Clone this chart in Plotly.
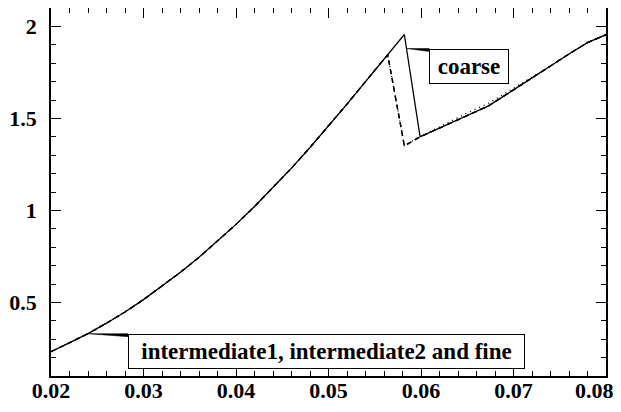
import plotly.graph_objects as go

# ---- data ----
x_common = [0.020, 0.022, 0.024, 0.026, 0.028, 0.030, 0.032, 0.034, 0.036, 0.038,
            0.040, 0.042, 0.044, 0.046, 0.048, 0.050, 0.052, 0.054, 0.056]
y_common = [0.232, 0.279, 0.330, 0.387, 0.448, 0.515, 0.587, 0.664, 0.745, 0.832,
            0.924, 1.021, 1.123, 1.230, 1.342, 1.459, 1.578, 1.700, 1.824]

x_coarse_tail = [0.058, 0.0582, 0.0599, 0.062, 0.064, 0.066, 0.0673, 0.070, 0.072,
                 0.074, 0.076, 0.078, 0.080]
y_coarse_tail = [1.946, 1.956, 1.400, 1.447, 1.492, 1.537, 1.568, 1.655, 1.722,
                 1.785, 1.850, 1.912, 1.955]

x_inter1_tail = [0.0564, 0.0582, 0.0599, 0.062, 0.064, 0.066, 0.0673, 0.070, 0.072,
                 0.074, 0.076, 0.078, 0.080]
y_inter1_tail = [1.846, 1.351, 1.400, 1.447, 1.492, 1.537, 1.568, 1.655, 1.722,
                 1.785, 1.850, 1.912, 1.955]

x_inter2_tail = [0.0564, 0.0582, 0.0599, 0.062, 0.064, 0.066, 0.0673, 0.070, 0.072,
                 0.074, 0.076, 0.078, 0.080]
y_inter2_tail = [1.846, 1.351, 1.400, 1.447, 1.492, 1.537, 1.568, 1.655, 1.722,
                 1.785, 1.850, 1.912, 1.955]

x_fine_tail = [0.0564, 0.0582, 0.0599, 0.061, 0.063, 0.065, 0.0673, 0.069, 0.0711,
               0.072, 0.074, 0.076, 0.078, 0.080]
y_fine_tail = [1.846, 1.351, 1.402, 1.428, 1.480, 1.530, 1.582, 1.634, 1.694,
               1.722, 1.785, 1.850, 1.912, 1.955]

x_tickvals = [0.02, 0.03, 0.04, 0.05, 0.06, 0.07, 0.08]
x_ticklabels = ["0.02", "0.03", "0.04", "0.05", "0.06", "0.07", "0.08"]

label_coarse = "coarse"
label_rest = "intermediate1, intermediate2 and fine"

FONT = "Liberation Serif"

fig = go.Figure()

def add(xs, ys, dash, name):
    fig.add_trace(go.Scatter(x=xs, y=ys, mode="lines", name=name,
                             line=dict(color="black", width=1.3, dash=dash)))

add(x_common + x_fine_tail, y_common + y_fine_tail, "1px,4px", "fine")
add(x_common + x_inter2_tail, y_common + y_inter2_tail, "5px,4px", "intermediate2")
add(x_common + x_inter1_tail, y_common + y_inter1_tail, "5px,4px", "intermediate1")
add(x_common + x_coarse_tail, y_common + y_coarse_tail, "solid", "coarse")

# label anchors taken from the data
peak_i = y_coarse_tail.index(max(y_coarse_tail))
cx, cy = x_coarse_tail[peak_i], y_coarse_tail[peak_i]
lx, ly = x_common[2], y_common[2]

# wedge leaders (pixel offsets relative to the data anchors)
fig.add_shape(type="path", xref="x", yref="y", xsizemode="pixel", ysizemode="pixel",
              xanchor=cx, yanchor=cy, path="M 2,-14 L 25,-14 L 25,-17 Z",
              fillcolor="black", line=dict(color="black", width=0.5))
fig.add_shape(type="path", xref="x", yref="y", xsizemode="pixel", ysizemode="pixel",
              xanchor=lx, yanchor=ly, path="M 0,0 L 40,0 L 40,-3 Z",
              fillcolor="black", line=dict(color="black", width=0.5))

ann_font = dict(family=FONT, size=23, color="black", weight="bold")
fig.add_annotation(x=cx, y=cy, xref="x", yref="y", text=label_coarse, showarrow=False,
                   xanchor="left", yanchor="top", xshift=25, yshift=-14,
                   bgcolor="white", bordercolor="black", borderwidth=1, borderpad=3,
                   width=72, height=27, font=ann_font)
fig.add_annotation(x=lx, y=ly, xref="x", yref="y", text=label_rest, showarrow=False,
                   xanchor="left", yanchor="top", xshift=40, yshift=0,
                   bgcolor="white", bordercolor="black", borderwidth=1, borderpad=3,
                   width=389, height=27, font=ann_font)

tick_font = dict(family=FONT, size=22, color="black", weight="bold")

# last x tick label is pulled inside the page edge, as in the reference
x_ticktext = x_ticklabels[:-1] + [""]
fig.add_annotation(x=x_tickvals[-1], y=0, xref="x", yref="paper", text=x_ticklabels[-1],
                   showarrow=False, xanchor="right", yanchor="top", xshift=9, yshift=-1,
                   borderpad=0, font=tick_font)

axis_common = dict(showgrid=False, zeroline=False, showline=True, linecolor="black",
                   linewidth=1.5, mirror="allticks", ticks="inside", ticklen=10,
                   tickwidth=1, tickcolor="black", automargin=False,
                   ticklabeloverflow="allow", tickfont=tick_font)

fig.update_xaxes(range=[0.02, 0.08], tickvals=x_tickvals, ticktext=x_ticktext,
                 ticklabelstandoff=-6,
                 minor=dict(ticks="inside", ticklen=5, tickwidth=1, tickcolor="black",
                            dtick=0.002, tick0=0.02),
                 **axis_common)
fig.update_yaxes(range=[0.1, 2.1], dtick=0.5, tick0=0, ticklabelstandoff=8,
                 minor=dict(ticks="inside", ticklen=5, tickwidth=1, tickcolor="black",
                            dtick=0.1, tick0=0),
                 **axis_common)

# the page body adds an 8px offset, so the figure is sized to fill the rest
fig.update_layout(width=613, height=404, margin=dict(l=43, r=15, t=0, b=36),
                  paper_bgcolor="white", plot_bgcolor="white", showlegend=False)

fig.write_html("out.html")
